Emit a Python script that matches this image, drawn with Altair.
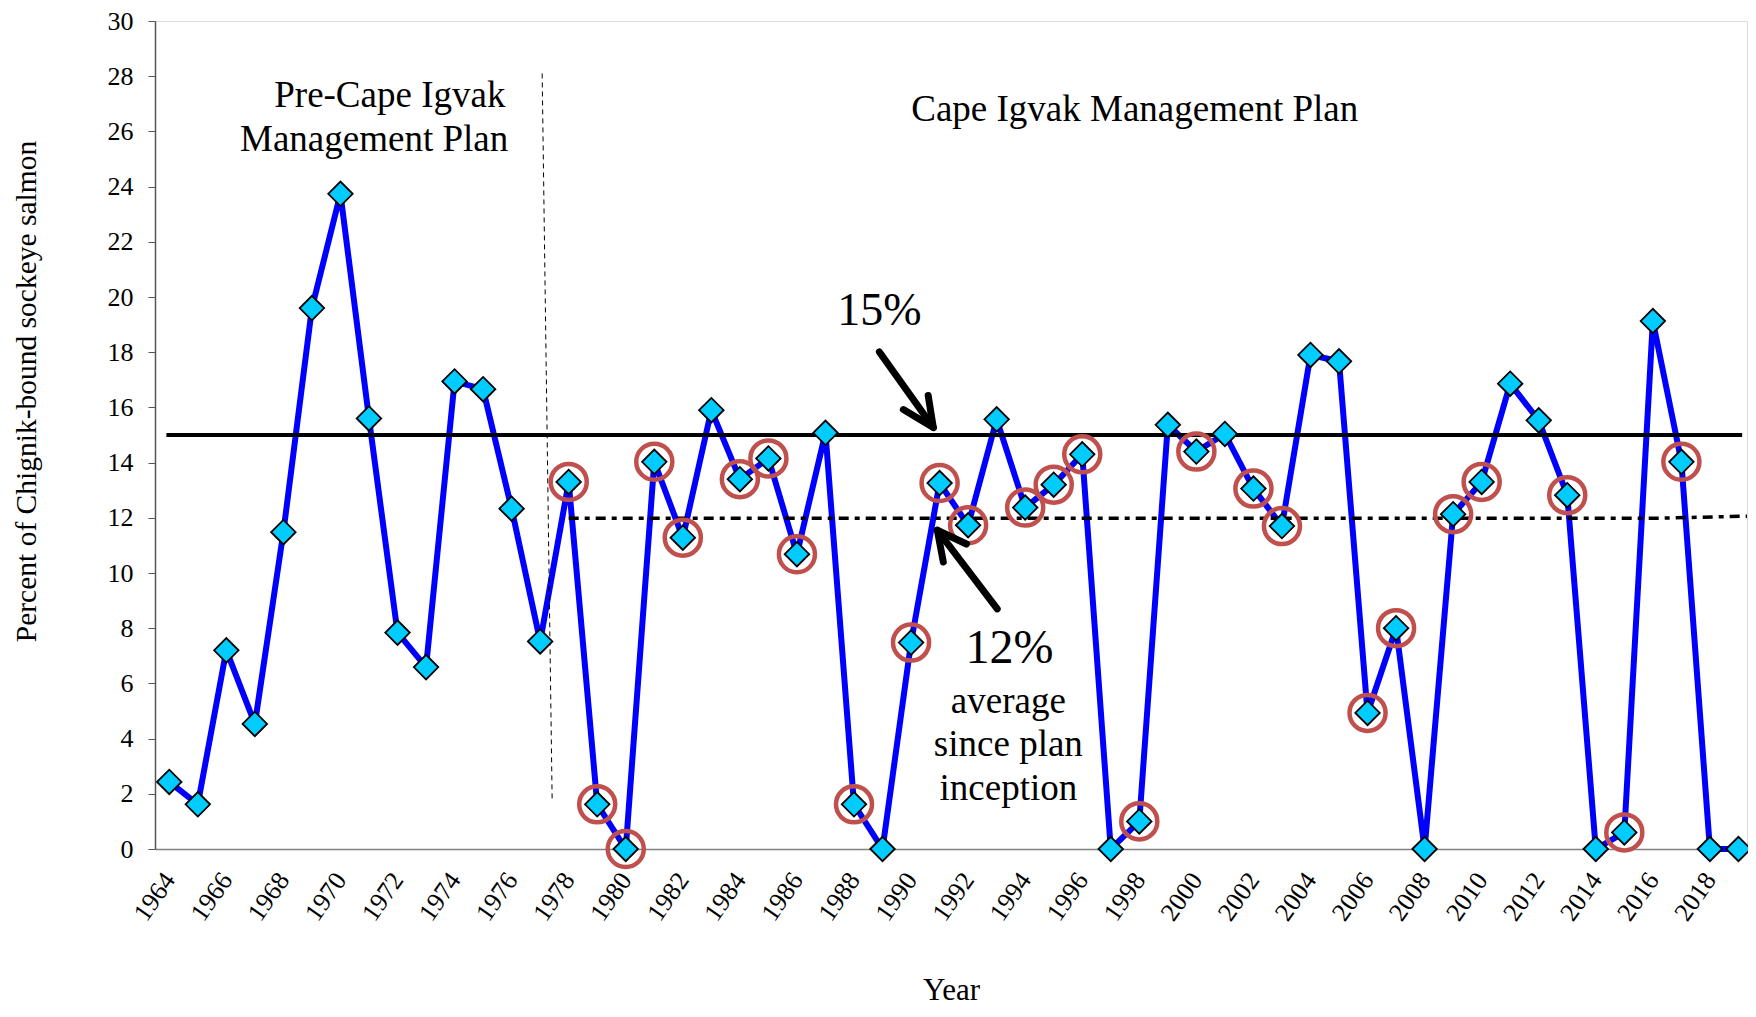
import altair as alt
import pandas as pd

# ---- data ----
years = list(range(1964, 2020))
values = [2.43, 1.62, 7.2, 4.53, 11.48, 19.6, 23.74, 15.6, 7.84, 6.59,
          16.94, 16.66, 12.33, 7.52, 13.3, 1.62, 0.0, 14.03, 11.28, 15.9,
          13.4, 14.15, 10.68, 15.08, 1.62, 0.0, 7.48, 13.26, 11.73, 15.57,
          12.37, 13.2, 14.3, 0.0, 1.0, 15.37, 14.4, 15.04, 13.06, 11.7,
          17.9, 17.67, 4.93, 8.0, 0.0, 12.13, 13.3, 16.86, 15.53, 12.82,
          0.0, 0.6, 19.13, 14.03, 0.0, 0.0]
circled_years = [1978, 1979, 1980, 1981, 1982, 1984, 1985, 1986, 1988, 1990,
                 1991, 1992, 1994, 1995, 1996, 1998, 2000, 2002, 2003, 2006,
                 2007, 2009, 2010, 2013, 2015, 2017]
x_tick_labels = list(range(1964, 2019, 2))
y_tick_labels = list(range(0, 31, 2))

# reference lines
goal_line_x = [1963.9, 2019.13]
goal_line_y = 15
avg_line_x = [1978, 2016, 2019.3]
avg_line_y = [11.98, 11.98, 12.06]
plan_divider = {"x": 1977.07, "y": 28.1, "x2": 1977.42, "y2": 1.78}

# arrows (segment id, point order, x, y)
arrow_seg = ["a1", "a1", "h1", "h1", "h1", "a2", "a2", "h2", "h2", "h2"]
arrow_ord = [0, 1, 0, 1, 2, 0, 1, 0, 1, 2]
arrow_x = [1988.89, 1990.78, 1990.60, 1990.78, 1989.73,
           1993.02, 1990.92, 1991.13, 1990.92, 1991.94]
arrow_y = [18.01, 15.27, 16.43, 15.27, 15.92,
           8.70, 11.55, 10.40, 11.55, 11.05]

# annotation texts
ann_text = ["Pre-Cape Igvak", "Management Plan", "Cape Igvak Management Plan",
            "15%", "12%", "average", "since plan", "inception"]
ann_x = [1971.73, 1971.18, 1997.84, 1988.89, 1993.45, 1993.41, 1993.41, 1993.41]
ann_y = [27.3, 25.68, 26.77, 19.49, 7.24, 5.34, 3.76, 2.18]
ann_fs = [37, 37, 37, 46, 48, 37, 37, 37]

FONT = "Liberation Serif"

df = pd.DataFrame({"year": years, "value": values})
circ = df[df["year"].isin(circled_years)]
goal_df = pd.DataFrame({"year": [goal_line_x[0]], "x2": [goal_line_x[1]], "value": [goal_line_y]})
avg_df = pd.DataFrame({"year": avg_line_x, "value": avg_line_y})
div_df = pd.DataFrame([{"year": plan_divider["x"], "value": plan_divider["y"],
                        "x2": plan_divider["x2"], "y2": plan_divider["y2"]}])
arrow_df = pd.DataFrame({"seg": arrow_seg, "o": arrow_ord, "year": arrow_x, "value": arrow_y})
ann_df = pd.DataFrame({"text": ann_text, "year": ann_x, "value": ann_y, "fs": ann_fs})

xs = alt.Scale(domain=[1963.5, 2019.3], nice=False, zero=False)
ys = alt.Scale(domain=[0, 30], nice=False)

x_axis = alt.Axis(values=x_tick_labels, format="d", labelAngle=-55,
                  labelAlign="right", labelBaseline="middle",
                  labelFont=FONT, labelFontSize=26, labelColor="black",
                  labelPadding=26, ticks=False, domainColor="#808080",
                  domainWidth=1.5, grid=False, title="Year", titleFont=FONT,
                  titleFontSize=31, titleFontWeight="normal", titleColor="black",
                  titlePadding=50)
y_axis = alt.Axis(values=y_tick_labels, labelFont=FONT, labelFontSize=26,
                  labelColor="black", labelPadding=15, tickSize=7,
                  tickColor="#555555", domainColor="#555555", domainWidth=1.5,
                  grid=False, title="Percent of Chignik-bound sockeye salmon",
                  titleFont=FONT, titleFontSize=29.5, titleFontWeight="normal",
                  titleColor="black", titlePadding=66, titleY=370)

X = alt.X("year:Q", scale=xs, axis=x_axis)
Y = alt.Y("value:Q", scale=ys, axis=y_axis)

line = alt.Chart(df).mark_line(color="#0000FF", strokeWidth=6).encode(x=X, y=Y)

goal = alt.Chart(goal_df).mark_rule(color="black", strokeWidth=4).encode(
    x=X, x2="x2:Q", y=Y)

avg = alt.Chart(avg_df).mark_line(color="black", strokeWidth=3.5,
                                  strokeDash=[10, 6, 5, 6]).encode(x=X, y=Y)

divider = alt.Chart(div_df).mark_rule(color="black", strokeWidth=1,
                                      strokeDash=[5, 4]).encode(
    x=X, y=Y, x2="x2:Q", y2="y2:Q")

rings = alt.Chart(circ).mark_point(shape="circle", filled=False,
                                   color="#C0504D", strokeWidth=4.5,
                                   size=1300, opacity=1).encode(x=X, y=Y)

diamonds = alt.Chart(df).mark_point(shape="diamond", filled=True,
                                    fill="#00CCFF", stroke="black",
                                    strokeWidth=1.8, size=600, opacity=1).encode(x=X, y=Y)

arrows = alt.Chart(arrow_df).mark_line(color="black", strokeWidth=7,
                                       strokeCap="round",
                                       strokeJoin="round").encode(
    x=X, y=Y, detail="seg:N", order="o:Q")

texts = alt.Chart(ann_df).mark_text(font=FONT, color="black", align="center",
                                    baseline="middle").encode(
    x=X, y=Y, text="text:N",
    size=alt.Size("fs:Q", scale=None, legend=None))

chart = alt.layer(line, goal, avg, divider, rings, diamonds, arrows, texts).properties(
    width=1592, height=828,
    autosize=alt.AutoSizeParams(type="none"),
    padding={"left": 147, "top": 13, "right": 1, "bottom": 159},
).configure_view(strokeWidth=0).configure(background="white")

chart.save("out.html", embed_options={"renderer": "svg", "actions": False})
